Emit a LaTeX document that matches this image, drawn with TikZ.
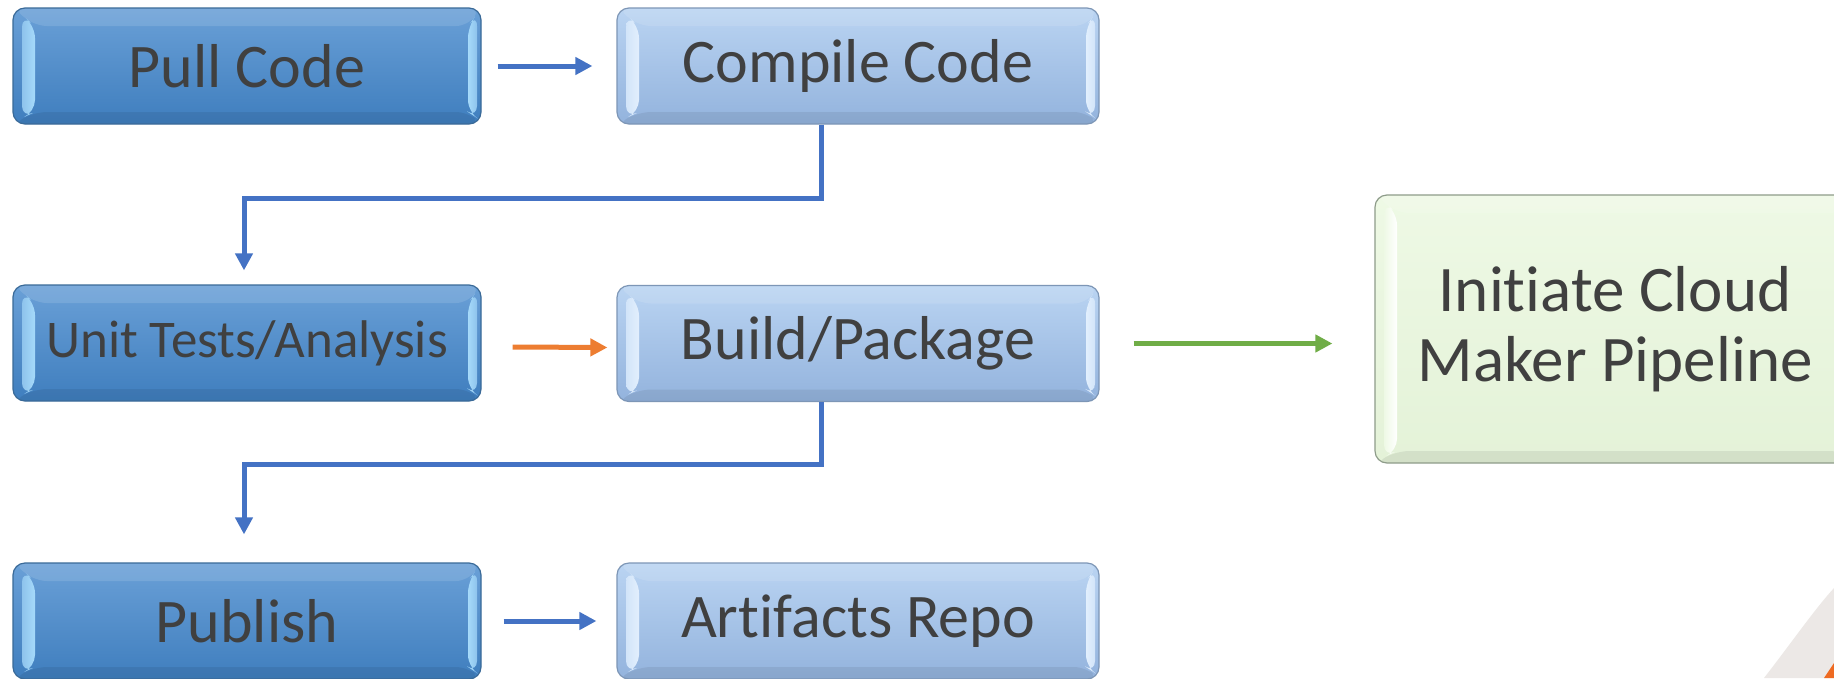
\documentclass[tikz,border=0pt]{standalone}
\usepackage{fontspec}
\setmainfont[Ligatures=NoCommon]{Carlito}
\usetikzlibrary{arrows.meta,calc}
\definecolor{txt}{HTML}{404040}
\definecolor{dtop}{HTML}{6AA0D7}
\definecolor{dbot}{HTML}{3F7EBE}
\definecolor{dborder}{HTML}{3A6A98}
\definecolor{dbevel}{HTML}{A6DAFA}
\definecolor{ltop}{HTML}{BAD4F2}
\definecolor{lbot}{HTML}{93B3DD}
\definecolor{lborder}{HTML}{7D96B6}
\definecolor{lbevel}{HTML}{E2EFFD}
\definecolor{gtop}{HTML}{EEF9E5}
\definecolor{gbot}{HTML}{E4F2D8}
\definecolor{gborder}{HTML}{8E9C8A}
\definecolor{arblue}{HTML}{4472C4}
\definecolor{arorange}{HTML}{ED7D31}
\definecolor{argreen}{HTML}{70AD47}
\definecolor{cornergrey}{HTML}{ECE8E6}
\definecolor{cornerorange}{HTML}{EE6A22}
\tikzset{
  bevel/.style 2 args={path picture={
    \fill[white,opacity=0.12] (path picture bounding box.north west) -- ++(22pt,-18pt) -- ($(path picture bounding box.north east)+(-13pt,-18pt)$) -- (path picture bounding box.north east) -- cycle;
    \fill[black,opacity=0.07] (path picture bounding box.south west) -- ++(22pt,12pt) -- ($(path picture bounding box.south east)+(-13pt,12pt)$) -- (path picture bounding box.south east) -- cycle;
    \shade[left color=#2, right color=#1] ($(path picture bounding box.north west)+(9pt,-7pt)$) -- ++(13pt,-11pt) -- ($(path picture bounding box.south west)+(22pt,12pt)$) -- ++(-13pt,-6pt) -- cycle;
    \shade[left color=#1, right color=#2] ($(path picture bounding box.north east)+(-4pt,-6pt)$) -- ++(-9pt,-12pt) -- ($(path picture bounding box.south east)+(-13pt,12pt)$) -- ++(9pt,-6pt) -- cycle;
  }},
  boxbase/.style={rounded corners=12pt, minimum height=116pt,
    line width=1.2pt, text=txt, inner sep=0pt, align=center},
  darkbox/.style={boxbase, minimum width=468pt, draw=dborder, top color=dtop, bottom color=dbot, bevel={dbevel}{dtop!40!dbevel}},
  lightbox/.style={boxbase, minimum width=482pt, draw=lborder, top color=ltop, bottom color=lbot, bevel={lbevel}{ltop!40!lbevel}},
  greenbox/.style={boxbase, draw=gborder, top color=gtop, bottom color=gbot, bevel={white}{gtop}},
  bigtext/.style={font=\fontsize{62}{68}\selectfont},
  conn/.style={line width=5pt, -{Triangle[length=17pt,width=17pt]}},
}
\begin{document}
\begin{tikzpicture}[x=1pt,y=-1pt]
\useasboundingbox (0,0) rectangle (1834,678);
\fill[white] (0,0) rectangle (1834,678);
% corner decoration
\fill[cornergrey] (1764,678) .. controls (1792,642) and (1814,610) .. (1834,588) -- (1834,678) -- cycle;
\fill[cornerorange] (1824,678) -- (1834,663) -- (1834,678) -- cycle;

\node[darkbox, bigtext] (pull) at (247,66) {Pull Code};
\node[lightbox, bigtext] (comp) at (858,66) {Compile Code};
\node[darkbox, font=\fontsize{53}{60}\selectfont] (unit) at (247,343) {Unit Tests/Analysis};
\node[lightbox, bigtext] (build) at (858,343.5) {Build/Package};
\node[darkbox, bigtext] (pub) at (247,621) {Publish};
\node[lightbox, bigtext] (art) at (858,621) {Artifacts Repo};
\node[greenbox, minimum width=480pt, minimum height=268pt, font=\fontsize{65}{70}\selectfont] (init) at (1615,329) {Initiate Cloud\\Maker Pipeline};

\draw[conn, arblue] ([xshift=16pt]pull.east) -- ([xshift=-24pt]comp.west);
\draw[conn, arblue] ([xshift=-37pt]comp.south) -- ++(0,74) -| ([xshift=-3pt,yshift=14pt]unit.north);
\draw[conn, arorange] ([xshift=31pt,yshift=-4pt]unit.east) -- ([xshift=-9pt,yshift=-4pt]build.west);
\draw[conn, argreen] ([xshift=34pt]build.east) -- ([xshift=-42pt]init.west |- build.east);
\draw[conn, arblue] ([xshift=-37pt]build.south) -- ++(0,62) -| ([xshift=-3pt,yshift=28pt]pub.north);
\draw[conn, arblue] ([xshift=22pt]pub.east) -- ([xshift=-20pt]art.west);
\end{tikzpicture}
\end{document}
